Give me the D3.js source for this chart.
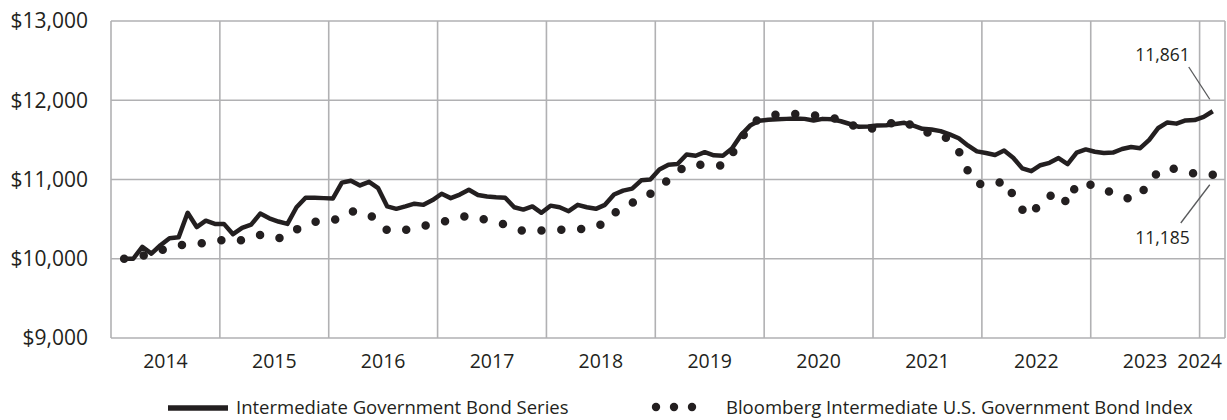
<!DOCTYPE html>
<html>
<head>
    <meta charset="utf-8">
    <title>growth-of-10000</title>
    <style>
        body { margin: 0; background: #fff; }
        text { font-family: "Open Sans", "Noto Sans", sans-serif; fill: #231f20; }
    </style>
</head>
<body>

<main></main>

<script src="https://cdn.jsdelivr.net/npm/d3@7"></script>
<script>
    // data: month-end values, first point Feb 2014, last point Feb 2024
    var fundName = "Intermediate Government Bond Series";
    var indexName = "Bloomberg Intermediate U.S. Government Bond Index";

    var fundValues = [
        10000, 10000, 10150, 10065, 10170, 10260, 10270, 10580, 10400, 10480, 10440, 10440,
        10310, 10390, 10430, 10570, 10510, 10470, 10440, 10650, 10770, 10770, 10765, 10760,
        10960, 10985, 10925, 10970, 10890, 10660, 10630, 10660, 10695, 10680, 10740, 10820,
        10765, 10810, 10870, 10805, 10785, 10775, 10770, 10650, 10620, 10660, 10580, 10670,
        10650, 10600, 10680, 10650, 10630, 10680, 10810, 10860, 10885, 10990, 11000, 11125,
        11185, 11195, 11315, 11300, 11345, 11305, 11300, 11390, 11560, 11680, 11740, 11755,
        11760, 11765, 11770, 11765, 11745, 11765, 11760, 11735, 11700, 11665, 11670, 11680,
        11685, 11700, 11715, 11680, 11640, 11630, 11610, 11570, 11520, 11430, 11355, 11335,
        11310, 11365, 11275, 11140, 11105, 11180, 11210, 11270, 11195, 11340, 11380, 11350,
        11335, 11340, 11385, 11410, 11395, 11500, 11650, 11720, 11705, 11745, 11750, 11790,
        11861
    ];

    var indexValues = [
        10000, 10015, 10035, 10075, 10105, 10140, 10170, 10180, 10185, 10205, 10225, 10235,
        10215, 10235, 10275, 10300, 10275, 10255, 10305, 10370, 10420, 10465, 10470, 10480,
        10535, 10600, 10585, 10560, 10470, 10360, 10355, 10365, 10390, 10415, 10440, 10465,
        10490, 10520, 10545, 10515, 10490, 10460, 10430, 10390, 10350, 10345, 10355, 10360,
        10365, 10370, 10375, 10380, 10405, 10455, 10570, 10655, 10705, 10750, 10820, 10900,
        11000, 11100, 11175, 11185, 11190, 11180, 11175, 11320, 11510, 11680, 11770, 11805,
        11820, 11830, 11825, 11820, 11810, 11800, 11780, 11745, 11705, 11640, 11630, 11660,
        11690, 11725, 11740, 11665, 11600, 11590, 11580, 11490, 11360, 11110, 10945, 10940,
        10935, 10990, 10800, 10620, 10540, 10725, 10790, 10840, 10690, 10945, 10940, 10930,
        10875, 10830, 10790, 10745, 10810, 10960, 11100, 11145, 11130, 11100, 11075, 11055,
        11060
    ];

    var yTicks = [9000, 10000, 11000, 12000, 13000];
    var yearLabels = ["2014", "2015", "2016", "2017", "2018", "2019", "2020", "2021", "2022", "2023", "2024"];
    // where each year label sits, in months from Jan 2014
    var yearLabelMonths = [6, 18, 30, 42, 54, 66, 78, 90, 102, 114, 120];
    var yearLines = [0, 12, 24, 36, 48, 60, 72, 84, 96, 108, 120];
    var firstMonth = 1.45;   // first data point, months from Jan 2014
    var lastMonth = 122.8;   // right edge of the plot

    var endLabels = ["11,861", "11,185"];

    // svg
    var width = 1227;
    var height = 420;
    var margin = {top: 21, right: 2, bottom: 82, left: 111};
    var svg = d3.select("main")
        .append("svg")
        .attr("width", width)
        .attr("height", height);

    var x = d3.scaleLinear()
        .domain([0, lastMonth])
        .range([margin.left, width - margin.right]);
    var y = d3.scaleLinear()
        .domain([9000, 13000])
        .range([height - margin.bottom, margin.top]);

    var gridColor = "#b1b1b3";
    var ink = "#231f20";

    // grid
    var grid = svg.append("g");
    grid.selectAll("line.h")
        .data(yTicks)
        .enter()
        .append("line")
        .attr("x1", x(0))
        .attr("x2", x(lastMonth))
        .attr("y1", function (d) { return y(d); })
        .attr("y2", function (d) { return y(d); })
        .attr("stroke", gridColor)
        .attr("stroke-width", 1.6);
    grid.selectAll("line.v")
        .data(yearLines.concat([lastMonth]))
        .enter()
        .append("line")
        .attr("x1", function (d) { return x(d); })
        .attr("x2", function (d) { return x(d); })
        .attr("y1", y(9000))
        .attr("y2", y(13000))
        .attr("stroke", gridColor)
        .attr("stroke-width", 1.6);

    // y labels
    var fmt = d3.format(",");
    svg.append("g")
        .selectAll("text")
        .data(yTicks)
        .enter()
        .append("text")
        .attr("x", 88)
        .attr("y", function (d) { return y(d); })
        .attr("dy", "0.35em")
        .attr("text-anchor", "end")
        .style("font-size", "21px")
        .text(function (d) { return "$" + fmt(d); });

    // x labels
    svg.append("g")
        .selectAll("text")
        .data(yearLabels)
        .enter()
        .append("text")
        .attr("x", function (d, i) { return x(yearLabelMonths[i]); })
        .attr("y", 361)
        .attr("dy", "0.35em")
        .attr("text-anchor", "middle")
        .style("font-size", "19.5px")
        .text(function (d) { return d; });

    var line = d3.line()
        .x(function (d, i) { return x(firstMonth + i); })
        .y(function (d) { return y(d); });

    // index: dotted line
    var indexPath = svg.append("path")
        .datum(indexValues)
        .attr("d", line)
        .attr("fill", "none")
        .attr("stroke", ink)
        .attr("stroke-width", 8.5)
        .attr("stroke-linecap", "round");
    var len = indexPath.node().getTotalLength();
    var gap = len / 63;
    indexPath.attr("stroke-dasharray", "0," + gap);

    // fund: solid line
    svg.append("path")
        .datum(fundValues)
        .attr("d", line)
        .attr("fill", "none")
        .attr("stroke", ink)
        .attr("stroke-width", 4.5)
        .attr("stroke-linejoin", "round");

    // end callouts
    var lastI = fundValues.length - 1;
    var endX = x(firstMonth + lastI);
    svg.append("line")
        .attr("x1", endX - 24).attr("y1", 67)
        .attr("x2", endX - 3).attr("y2", y(fundValues[lastI]) - 12)
        .attr("stroke", "#58595b").attr("stroke-width", 1.3);
    svg.append("text")
        .attr("x", endX - 23).attr("y", 55)
        .attr("dy", "0.35em")
        .attr("text-anchor", "end")
        .style("font-size", "17.5px")
        .text(endLabels[0]);
    svg.append("line")
        .attr("x1", endX - 32).attr("y1", 223)
        .attr("x2", endX - 3).attr("y2", y(indexValues[lastI]) + 10)
        .attr("stroke", "#58595b").attr("stroke-width", 1.3);
    svg.append("text")
        .attr("x", endX - 23).attr("y", 238)
        .attr("dy", "0.35em")
        .attr("text-anchor", "end")
        .style("font-size", "17.5px")
        .text(endLabels[1]);

    // legend
    var legend = svg.append("g");
    legend.append("line")
        .attr("x1", 168).attr("x2", 228)
        .attr("y1", 408).attr("y2", 408)
        .attr("stroke", ink)
        .attr("stroke-width", 5.5);
    legend.append("text")
        .attr("x", 236).attr("y", 408)
        .attr("dy", "0.35em")
        .style("font-size", "18.5px")
        .text(fundName);
    legend.selectAll("circle")
        .data([0, 1, 2])
        .enter()
        .append("circle")
        .attr("cx", function (d) { return 656 + d * 18; })
        .attr("cy", 407)
        .attr("r", 4.2)
        .attr("fill", ink);
    legend.append("text")
        .attr("x", 726).attr("y", 408)
        .attr("dy", "0.35em")
        .style("font-size", "18.5px")
        .text(indexName);
</script>
</body>
</html>
